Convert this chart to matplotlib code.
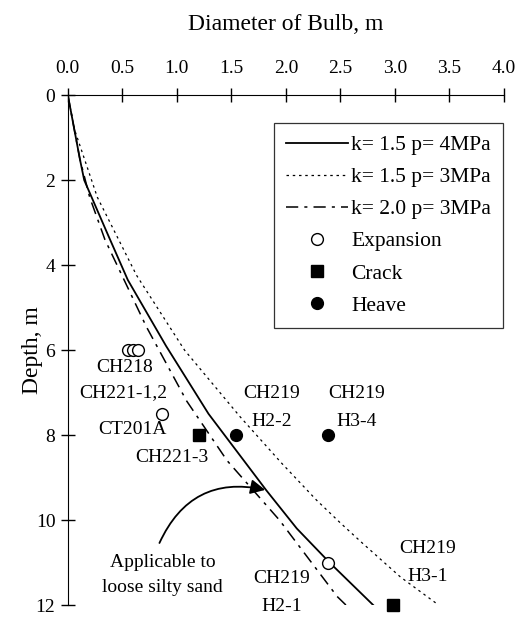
import matplotlib
matplotlib.use("Agg")
import matplotlib.pyplot as plt

plt.rcParams['font.family'] = ['Liberation Serif', 'DejaVu Serif']

# ---- curve data (depth in m, bulb diameter in m) ----
depth_k15_p4 = [0, 1.5, 2.0, 3.3, 4.35, 5.9, 7.5, 9.3, 10.2, 11.0, 12.0]
diam_k15_p4 = [0, 0.11, 0.15, 0.37, 0.55, 0.90, 1.29, 1.82, 2.10, 2.40, 2.80]

depth_k15_p3 = [0, 0.8, 2.4, 4.24, 6.0, 7.57, 8.66, 9.53, 10.07, 10.54, 11.34, 12.0]
diam_k15_p3 = [0, 0.06, 0.27, 0.63, 1.07, 1.58, 1.96, 2.28, 2.50, 2.70, 3.05, 3.40]

depth_k20_p3 = [0, 1.5, 2.4, 3.4, 5.45, 7.2, 8.6, 10.0, 11.8, 12.0]
diam_k20_p3 = [0, 0.11, 0.20, 0.34, 0.72, 1.09, 1.46, 1.94, 2.47, 2.55]

# ---- field observations ----
expansion_x = [0.55, 0.60, 0.64, 0.86, 2.39]
expansion_y = [6.0, 6.0, 6.0, 7.5, 11.0]
crack_x = [1.20, 2.98]
crack_y = [8.0, 12.0]
heave_x = [1.54, 2.39]
heave_y = [8.0, 8.0]

# ---- point labels (text, x, depth) ----
site_labels = [
    ("CH218", 0.52, 6.40),
    ("CH221-1,2", 0.51, 7.01),
    ("CT201A", 0.59, 7.88),
    ("CH221-3", 0.95, 8.52),
    ("CH219\nH2-2", 1.87, 7.35),
    ("CH219\nH3-4", 2.65, 7.35),
    ("CH219\nH3-1", 3.30, 10.99),
    ("CH219\nH2-1", 1.96, 11.71),
]

x_ticks = [0.0, 0.5, 1.0, 1.5, 2.0, 2.5, 3.0, 3.5, 4.0]
y_ticks = [0, 2, 4, 6, 8, 10, 12]

fig = plt.figure(figsize=(5.18, 6.18), dpi=100)
ax = fig.add_axes([0.131, 0.021, 0.842, 0.825])

ax.plot(diam_k15_p4, depth_k15_p4, color='black', lw=1.3, label='k= 1.5 p= 4MPa')
ax.plot(diam_k15_p3, depth_k15_p3, color='black', lw=0.9, linestyle=(0, (2, 3)),
        label='k= 1.5 p= 3MPa')
ax.plot(diam_k20_p3, depth_k20_p3, color='black', lw=1.1, linestyle=(0, (8, 4, 2, 4)),
        label='k= 2.0 p= 3MPa')

ax.plot(expansion_x, expansion_y, 'o', mfc='white', mec='black', mew=1.0, ms=8.5,
        clip_on=False, label='Expansion')
ax.plot(crack_x, crack_y, 's', color='black', ms=8, clip_on=False, label='Crack')
ax.plot(heave_x, heave_y, 'o', color='black', ms=8.5, clip_on=False, label='Heave')

for txt, x, y in site_labels:
    ax.text(x, y, txt, fontsize=14, ha='center', va='center', linespacing=1.85)

# note and curved arrow pointing at the solid curve
ax.text(0.87, 11.29, "Applicable to\nloose silty sand", fontsize=14,
        ha='center', va='center', linespacing=1.6)
ax.annotate("", xy=(1.81, 9.29), xytext=(0.84, 10.54),
            arrowprops=dict(arrowstyle='-|>', color='black', lw=1.3, mutation_scale=22,
                            shrinkA=0, shrinkB=0,
                            connectionstyle='arc3,rad=-0.4'))

ax.set_xlim(0, 4)
ax.set_ylim(12, 0)
ax.set_xticks(x_ticks)
ax.set_xticklabels([f"{v:.1f}" for v in x_ticks])
ax.set_yticks(y_ticks)
ax.xaxis.tick_top()
ax.xaxis.set_label_position('top')
ax.set_xlabel("Diameter of Bulb, m", fontsize=17, labelpad=22)
ax.set_ylabel("Depth, m", fontsize=17, labelpad=-5)

ax.spines['right'].set_visible(False)
ax.spines['bottom'].set_visible(False)
ax.tick_params(axis='both', direction='inout', length=10, width=1, labelsize=14)
ax.tick_params(axis='x', pad=8)
ax.tick_params(axis='y', pad=4)

leg = ax.legend(loc='upper right', bbox_to_anchor=(0.998, 0.945), fontsize=15.5,
                handlelength=2.9, handletextpad=0.15, labelspacing=0.56,
                borderpad=0.55, borderaxespad=0.0, frameon=True, fancybox=False,
                edgecolor='black')
leg.get_frame().set_linewidth(0.9)

fig.savefig("out.png", dpi=100)
